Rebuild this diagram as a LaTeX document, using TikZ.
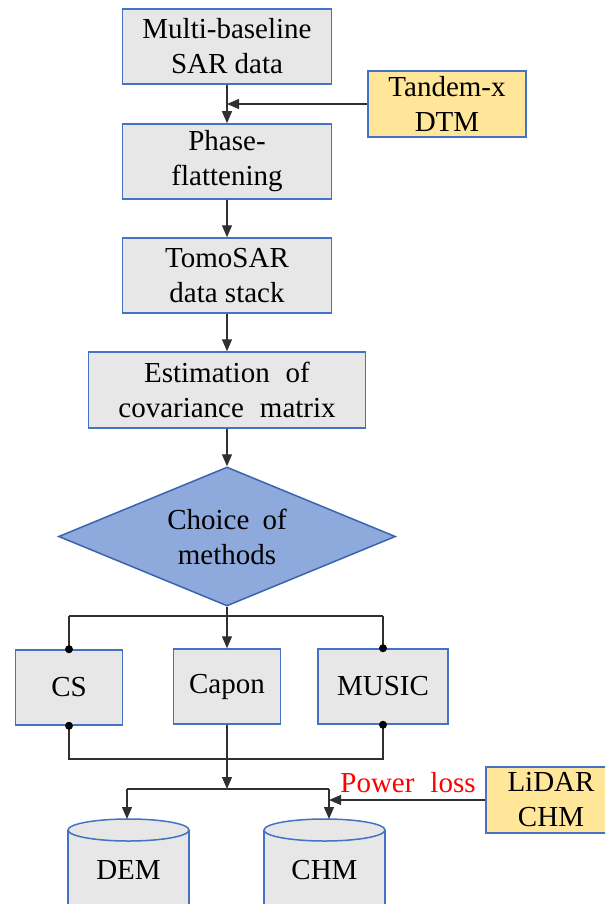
\documentclass[tikz,border=0pt]{standalone}
\usepackage{fontspec}
\setmainfont{Liberation Serif}
\usetikzlibrary{shapes.geometric,arrows.meta}
\definecolor{boxgray}{HTML}{E7E7E7}
\definecolor{boxblue}{HTML}{4472C4}
\definecolor{boxyellow}{HTML}{FFE699}
\definecolor{diafill}{HTML}{8EA9DB}
\definecolor{diaborder}{HTML}{3A64B0}
\definecolor{linegray}{HTML}{303030}
\begin{document}
\begin{tikzpicture}[x=1pt,y=-1pt,
  font=\fontsize{29}{35}\selectfont,
  procbox/.style={draw=boxblue,fill=boxgray,line width=1.5pt,inner sep=0pt,align=center},
  inbox/.style={draw=boxblue,fill=boxyellow,line width=1.5pt,inner sep=0pt,align=center},
  conn/.style={draw=linegray,line width=1.2pt},
  arr/.style={conn,-{Triangle[length=12pt,width=10pt]}},
  dot/.style={circle,fill=black,inner sep=0pt,minimum size=8pt},
  cyl/.style={draw=boxblue,fill=boxgray,line width=1.5pt}]
\useasboundingbox (0,0) rectangle (605,904);
\clip (0,0) rectangle (605,904);
\fill[white] (0,0) rectangle (605,904);

\node[procbox,minimum width=209pt,minimum height=75pt] (b1) at (227,46.5) {Multi-baseline\\SAR data};
\node[inbox,minimum width=158pt,minimum height=66pt] (tan) at (447,104) {Tandem-x\\DTM};
\node[procbox,minimum width=209pt,minimum height=75pt] (b2) at (227,161.5) {Phase-\\flattening};
\node[procbox,minimum width=209pt,minimum height=75pt] (b3) at (227,275.5) {TomoSAR\\data stack};
\node[procbox,minimum width=277pt,minimum height=76pt] (b4) at (227,390) {Estimation\hspace{0.3em} of\\covariance\hspace{0.3em} matrix};
\node[diamond,draw=diaborder,fill=diafill,line width=1.5pt,inner sep=0pt,aspect=2.42,minimum width=337pt,minimum height=139pt,align=center] (dia) at (227,536.5) {Choice\hspace{0.2em} of\\methods};

\node[procbox,minimum width=107pt,minimum height=75pt] (cs) at (69,687.5) {CS};
\node[procbox,minimum width=107pt,minimum height=75pt] (capon) at (227,686.5) {Capon};
\node[procbox,minimum width=130pt,minimum height=75pt] (music) at (383,686.5) {MUSIC};
\node[inbox,minimum width=130pt,minimum height=66pt] (lidar) at (551,800) {LiDAR\\CHM};

% cylinders
\path[cyl] (68,830) -- (68,915) -- (189,915) -- (189,830);
\draw[cyl] (128.5,830) ellipse [x radius=60.5, y radius=11];
\path[cyl] (264,830) -- (264,915) -- (385,915) -- (385,830);
\draw[cyl] (324.5,830) ellipse [x radius=60.5, y radius=11];
\node (dem) at (128.5,870) {DEM};
\node (chm) at (324.5,870) {CHM};
\coordinate (demtop) at (127,819);
\coordinate (chmtop) at (329,819);

\node[text=red,inner sep=0pt] (pl) at (408,783) {Power\hspace{0.3em} loss};

% connectors top
\draw[arr] (b1.south) -- (b2.north);
\coordinate (j1) at (b1.south |- tan.west);
\draw[arr] (tan.west) -- (j1);
\draw[arr] (b2.south) -- (b3.north);
\draw[arr] (b3.south) -- (b4.north);
\draw[arr] (b4.south) -- (dia.north);

% branch
\coordinate (br) at (dia.south |- 0,616);
\coordinate (brl) at (cs.north |- br);
\coordinate (brr) at (music.north |- br);
\draw[conn] (dia.south) -- (br);
\draw[conn] (brl) -- (brr);
\draw[conn] (brl) -- (cs.north);
\draw[conn] (brr) -- (music.north);
\draw[arr] (br) -- (capon.north);
\node[dot] at (cs.north) {};
\node[dot] at (music.north) {};

% join
\coordinate (jnl) at (cs.south |- 0,759);
\coordinate (jnr) at (music.south |- 0,759);
\draw[conn] (cs.south) -- (jnl) -- (jnr) -- (music.south);
\node[dot] at (cs.south) {};
\node[dot] at (music.south) {};
\coordinate (out) at (capon.south |- 0,789);
\draw[arr] (capon.south) -- (out);
\coordinate (ol) at (demtop |- out);
\coordinate (or) at (chmtop |- out);
\draw[conn] (ol) -- (or);
\draw[arr] (ol) -- (demtop);
\draw[arr] (or) -- (chmtop);
\coordinate (lj) at (chmtop |- lidar.west);
\draw[arr] (lidar.west) -- (lj);
\end{tikzpicture}
\end{document}
